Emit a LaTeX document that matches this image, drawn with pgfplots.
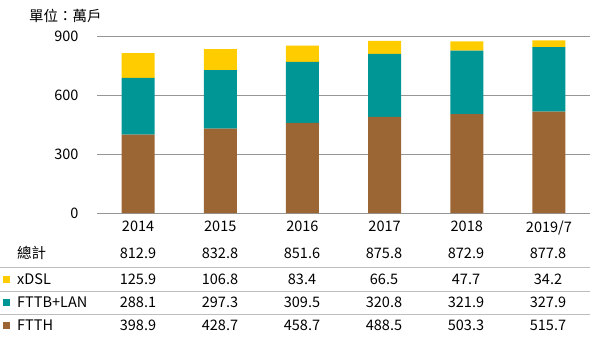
\documentclass[border=0pt]{standalone}
\usepackage{fontspec}
\setmainfont{Noto Sans CJK TC}
\usepackage{pgfplots}
\pgfplotsset{compat=1.18}
\definecolor{ftth}{RGB}{155,101,52}
\definecolor{fttb}{RGB}{0,150,150}
\definecolor{xdsl}{RGB}{255,204,0}
\definecolor{gridc}{RGB}{150,150,150}
\definecolor{sepc}{RGB}{190,190,190}
\newcommand{\tf}{\fontsize{14.5bp}{17bp}\selectfont}
\begin{document}
\begin{tikzpicture}[x=1bp,y=1bp]
\useasboundingbox (0,0) rectangle (607,-343);
\begin{axis}[
  at={(97bp,-213bp)}, anchor=south west,
  scale only axis, width=493bp, height=177bp,
  xmin=-0.5, xmax=5.5, ymin=0, ymax=900,
  ybar stacked, bar width=33bp,
  xtick={0,...,5},
  xticklabels={2014,2015,2016,2017,2018,2019/7},
  ytick={0,300,600,900},
  ymajorgrids, grid style={gridc, line width=0.9bp},
  axis line style={draw=none},
  major tick length=0pt,
  tick label style={font=\tf},
  /pgf/number format/assume math mode=true,
  yticklabel style={xshift=-15bp},
  xticklabel style={yshift=-4bp},
  clip=false,
]
\addplot[fill=ftth, draw=none] coordinates {(0,398.9) (1,428.7) (2,458.7) (3,488.5) (4,503.3) (5,515.7)};
\addplot[fill=fttb, draw=none] coordinates {(0,288.1) (1,297.3) (2,309.5) (3,320.8) (4,321.9) (5,327.9)};
\addplot[fill=xdsl, draw=none] coordinates {(0,125.9) (1,106.8) (2,83.4) (3,66.5) (4,47.7) (5,34.2)};
\end{axis}
% unit label
\node[anchor=west, font=\tf, inner sep=0] at (29,-16) {單位：萬戶};
% separator lines
\foreach \yy in {-267,-291,-314} \draw[sepc, line width=0.8bp] (0,\yy) -- (590,\yy);
% row labels
\node[anchor=west, font=\tf, inner sep=0] at (17,-253) {總計};
\fill[xdsl] (3,-275.5) rectangle (10,-282.5);
\node[anchor=west, font=\tf, inner sep=0] at (17,-279) {xDSL};
\fill[fttb] (3,-298.5) rectangle (10,-305.5);
\node[anchor=west, font=\tf, inner sep=0] at (17,-302) {FTTB+LAN};
\fill[ftth] (3,-321.5) rectangle (10,-328.5);
\node[anchor=west, font=\tf, inner sep=0] at (17,-325) {FTTH};
% values
\foreach \v [count=\i from 0] in {812.9,832.8,851.6,875.8,872.9,877.8}
  \node[font=\tf, inner sep=0] at (138+82*\i,-253) {\v};
\foreach \v [count=\i from 0] in {125.9,106.8,83.4,66.5,47.7,34.2}
  \node[font=\tf, inner sep=0] at (138+82*\i,-279) {\v};
\foreach \v [count=\i from 0] in {288.1,297.3,309.5,320.8,321.9,327.9}
  \node[font=\tf, inner sep=0] at (138+82*\i,-302) {\v};
\foreach \v [count=\i from 0] in {398.9,428.7,458.7,488.5,503.3,515.7}
  \node[font=\tf, inner sep=0] at (138+82*\i,-325) {\v};
\end{tikzpicture}
\end{document}
